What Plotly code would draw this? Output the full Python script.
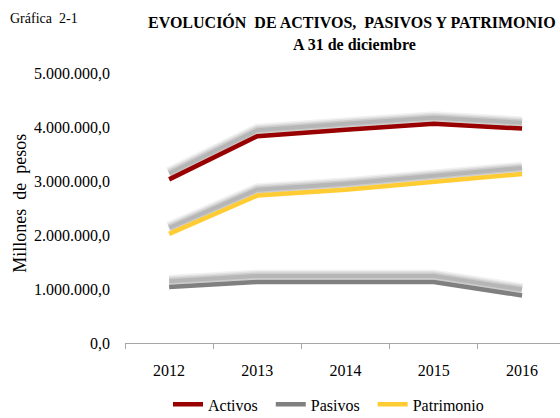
import plotly.graph_objects as go

years = ["2012", "2013", "2014", "2015", "2016"]
activos = [3030000, 3830000, 3950000, 4060000, 3970000]
pasivos = [1035000, 1130000, 1130000, 1130000, 880000]
patrimonio = [2020000, 2730000, 2840000, 2980000, 3130000]
y_ticks = [0, 1000000, 2000000, 3000000, 4000000, 5000000]
y_tick_labels = ["0,0", "1.000.000,0", "2.000.000,0", "3.000.000,0", "4.000.000,0", "5.000.000,0"]

NB = "\u00a0"
series = [
    ("Activos" + NB + NB, activos, "#990000"),
    ("Pasivos" + NB + NB, pasivos, "#808080"),
    ("Patrimonio", patrimonio, "#FFCC33"),
]

FONT = "Liberation Serif"
SHADOW_SHIFT = 110000  # upward shadow offset in data units

fig = go.Figure()

for name, vals, color in series:
    shadow = [v + SHADOW_SHIFT for v in vals]
    for w, a in [(13, 0.05), (10, 0.07), (7, 0.09), (4, 0.10)]:
        fig.add_trace(go.Scatter(
            x=years, y=shadow, mode="lines",
            line=dict(color=f"rgba(0,0,0,{a})", width=w),
            showlegend=False, hoverinfo="skip",
        ))

for name, vals, color in series:
    fig.add_trace(go.Scatter(
        x=years, y=vals, mode="lines", name=name,
        line=dict(color=color, width=4.5),
    ))

L, R, T, B = 125, 0, 73, 74.5
W, H = 560, 418
plot_w = W - L - R
plot_h = H - T - B

def px_to_paper(px, py):
    return (px - L) / plot_w, (H - B - py) / plot_h

lx, ly = px_to_paper(168, 405)
gx, gy = px_to_paper(8, 18)
tx, ty = px_to_paper(352, 22)
sx, sy = px_to_paper(354, 44)
yx, yy = px_to_paper(20, 204)

fig.update_layout(
    width=W, height=H,
    margin=dict(l=L, r=R, t=T, b=B, autoexpand=False),
    paper_bgcolor="white", plot_bgcolor="white",
    font=dict(family=FONT, size=16, color="#000000"),
    showlegend=True,
    legend=dict(
        orientation="h", x=lx, xanchor="left",
        y=ly, yanchor="middle",
        font=dict(family=FONT, size=16, color="#000000"),
        tracegroupgap=0,
    ),
    xaxis=dict(
        type="category",
        range=[-0.5, 4.43],
        showline=True, linecolor="#a6a6a6", linewidth=1,
        ticks="outside", tickson="boundaries", ticklen=5, tickcolor="#a6a6a6",
        showgrid=False, zeroline=False,
        ticklabelstandoff=13,
        tickfont=dict(family=FONT, size=16),
    ),
    yaxis=dict(
        range=[0, 5000000],
        tickvals=y_ticks, ticktext=y_tick_labels,
        showgrid=False, zeroline=False, showline=False,
        ticks="", ticklabelstandoff=14,
        tickfont=dict(family=FONT, size=16),
    ),
    annotations=[
        dict(text="Gráfica" + NB + NB + "2-1", x=gx, y=gy, xref="paper", yref="paper", showarrow=False,
             xanchor="left", yanchor="middle", font=dict(family=FONT, size=14, color="#000000")),
        dict(text="<b>EVOLUCIÓN" + NB + " DE ACTIVOS," + NB + " PASIVOS Y PATRIMONIO</b>", x=tx, y=ty,
             xref="paper", yref="paper", showarrow=False, xanchor="center", yanchor="middle",
             font=dict(family=FONT, size=16, color="#000000")),
        dict(text="<b>A 31 de diciembre</b>", x=sx, y=sy, xref="paper", yref="paper",
             showarrow=False, xanchor="center", yanchor="middle",
             font=dict(family=FONT, size=16, color="#000000")),
        dict(text="Millones" + NB + " de" + NB + " pesos", x=yx, y=yy, xref="paper", yref="paper",
             showarrow=False, xanchor="center", yanchor="middle", textangle=-90,
             font=dict(family=FONT, size=18, color="#000000")),
    ],
)

fig.write_html("out.html", config={"displayModeBar": False},
               post_script="document.body.style.margin='0';")
